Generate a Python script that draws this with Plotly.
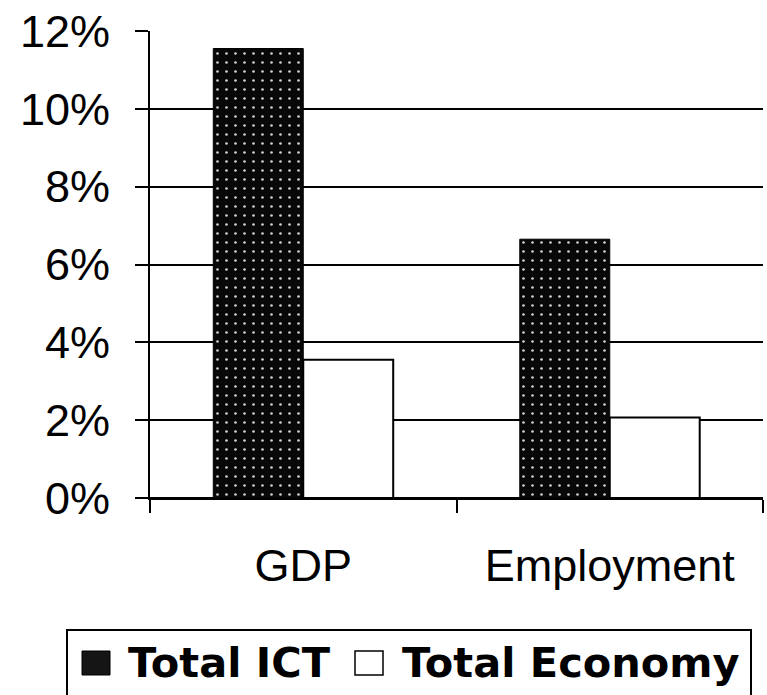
import plotly.graph_objects as go

# Share of growth contributed, per indicator
categories = ["GDP", "Employment"]
total_ict = [11.55, 6.65]
total_economy = [3.55, 2.07]
y_ticks = [0, 2, 4, 6, 8, 10, 12]
y_tick_labels = [f"{v}%" for v in y_ticks]

W, H = 767, 695
L, R, T, B = 150, 4, 31, 197
plot_w = W - L - R
plot_h = H - T - B


def px_x(x):
    return (x - L) / plot_w


def px_y(y):
    return (H - B - y) / plot_h


fig = go.Figure()
fig.add_trace(go.Bar(
    x=categories, y=total_ict, name="Total ICT",
    marker=dict(
        color="#080808",
        line=dict(color="black", width=1),
        pattern=dict(shape=".", fgcolor="#cfcfcf", bgcolor="#080808",
                     size=9, solidity=0.07, fillmode="replace"),
    ),
    showlegend=False,
))
fig.add_trace(go.Bar(
    x=categories, y=total_economy, name="Total Economy",
    marker=dict(color="white", line=dict(color="black", width=2)),
    showlegend=False,
))

axis_font = dict(family="Liberation Sans, Arial, sans-serif", size=45, color="black")

fig.update_layout(
    width=W, height=H,
    margin=dict(l=L, r=R, t=T, b=B, pad=0),
    paper_bgcolor="white", plot_bgcolor="white",
    barmode="group", bargap=0.413, bargroupgap=0,
    xaxis=dict(
        type="category", range=[-0.5, 1.5], tickson="boundaries",
        ticks="outside", ticklen=13, tickwidth=2, tickcolor="black",
        showline=True, linecolor="black", linewidth=2,
        showgrid=False, tickfont=axis_font, ticklabelstandoff=27,
    ),
    yaxis=dict(
        range=[0, 12], tickmode="array", tickvals=y_ticks, ticktext=y_tick_labels,
        ticks="outside", ticklen=13, tickwidth=2, tickcolor="black",
        showline=True, linecolor="black", linewidth=2,
        showgrid=True, gridcolor="black", gridwidth=2,
        zeroline=True, zerolinecolor="black", zerolinewidth=2,
        tickfont=axis_font, ticklabelstandoff=16,
    ),
)

# Legend box drawn below the axis
legend_font = dict(family="DejaVu Sans, sans-serif", size=41.5, color="black", weight="bold")
fig.add_shape(type="rect", xref="paper", yref="paper",
              x0=px_x(67), x1=px_x(751), y0=px_y(630), y1=px_y(710),
              line=dict(color="black", width=2), fillcolor="rgba(0,0,0,0)")
fig.add_shape(type="rect", xref="paper", yref="paper",
              x0=px_x(82), x1=px_x(110), y0=px_y(651), y1=px_y(675),
              line=dict(color="black", width=1), fillcolor="#151515")
fig.add_shape(type="rect", xref="paper", yref="paper",
              x0=px_x(355), x1=px_x(383), y0=px_y(651), y1=px_y(675),
              line=dict(color="black", width=1.5), fillcolor="white")
fig.add_annotation(text="Total ICT", xref="paper", yref="paper",
                   x=px_x(126), y=px_y(662), xanchor="left", yanchor="middle",
                   showarrow=False, font=legend_font)
fig.add_annotation(text="Total Economy", xref="paper", yref="paper",
                   x=px_x(400), y=px_y(662), xanchor="left", yanchor="middle",
                   showarrow=False, font=legend_font)

fig.write_html("out.html")
